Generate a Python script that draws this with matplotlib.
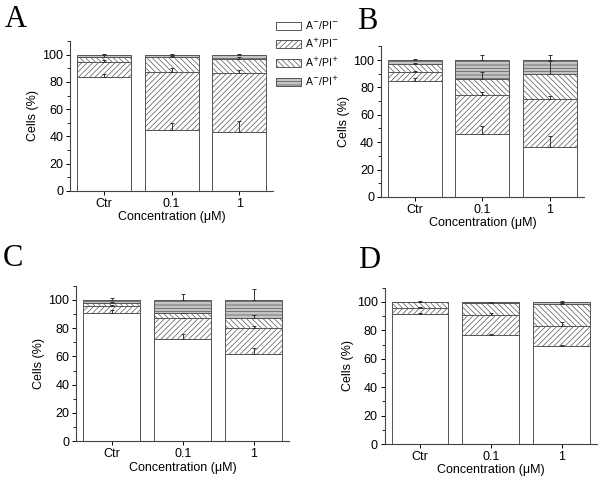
"""Four-panel stacked bar chart of annexin V / PI staining (A-D)."""

import matplotlib
matplotlib.use("Agg")
import matplotlib.pyplot as plt
from matplotlib.patches import Patch
from matplotlib.ticker import MultipleLocator
import numpy as np

plt.rcParams["font.family"] = ["Liberation Sans", "DejaVu Sans"]
plt.rcParams["hatch.linewidth"] = 0.5

CATEGORIES = ["Ctr", "0.1", "1"]
SERIES_LABELS = [r"A$^{-}$/PI$^{-}$", r"A$^{+}$/PI$^{-}$",
                 r"A$^{+}$/PI$^{+}$", r"A$^{-}$/PI$^{+}$"]

# segment heights (%), rows = A-/PI-, A+/PI-, A+/PI+, A-/PI+
A_VALUES = [[83.5, 45.0, 43.5], [11.5, 42.5, 43.0], [3.5, 10.5, 10.5], [1.5, 2.0, 3.0]]
A_ERRORS = [[2.0, 5.0, 8.0], [1.0, 3.0, 2.0], [1.0, 1.0, 1.0], [0.5, 0.5, 0.5]]

B_VALUES = [[85.0, 46.0, 36.5], [6.0, 28.5, 35.0], [6.0, 11.5, 18.0], [3.0, 14.0, 10.5]]
B_ERRORS = [[2.0, 6.0, 8.0], [1.0, 2.5, 2.0], [1.0, 5.0, 9.5], [0.5, 3.5, 3.5]]

C_VALUES = [[91.0, 72.5, 61.5], [5.0, 14.5, 19.0], [2.0, 3.5, 7.0], [2.0, 9.5, 12.5]]
C_ERRORS = [[2.0, 3.5, 4.5], [0.5, 0.5, 1.0], [0.5, 0.5, 2.0], [1.5, 4.0, 8.0]]

D_VALUES = [[91.5, 76.5, 69.0], [4.5, 14.0, 14.0], [4.0, 9.0, 15.5], [0.0, 0.5, 1.5]]
D_ERRORS = [[0.5, 1.0, 1.0], [0.5, 1.5, 3.0], [0.5, 0.5, 0.5], [0.0, 0.0, 0.5]]

STYLES = [
    dict(facecolor="white", hatch=None),
    dict(facecolor="white", hatch="//////"),
    dict(facecolor="white", hatch="\\\\\\\\\\\\"),
    dict(facecolor="#c4c4c4", hatch="-----"),
]
EDGE = "#555555"

# axes rectangles in figure fractions (left, bottom, width, height)
PANELS = [
    ("A", A_VALUES, A_ERRORS, (0.117, 0.601, 0.338, 0.313), (0.008, 0.99)),
    ("B", B_VALUES, B_ERRORS, (0.635, 0.588, 0.338, 0.315), (0.595, 0.985)),
    ("C", C_VALUES, C_ERRORS, (0.127, 0.077, 0.355, 0.325), (0.005, 0.49)),
    ("D", D_VALUES, D_ERRORS, (0.641, 0.071, 0.354, 0.327), (0.597, 0.485)),
]


def draw_panel(ax, values, errors):
    xs = np.arange(len(CATEGORIES))
    bottom = np.zeros(len(CATEGORIES))
    for vals, errs, style in zip(values, errors, STYLES):
        vals = np.array(vals)
        ax.bar(xs, vals, width=0.8, bottom=bottom, color=style["facecolor"],
               hatch=style["hatch"], edgecolor=EDGE, linewidth=0.7, zorder=2)
        top = bottom + vals
        ax.errorbar(xs, top, yerr=[np.zeros_like(vals), errs], fmt="none",
                    ecolor="#333333", elinewidth=0.7, capsize=1.5,
                    capthick=0.7, zorder=3)
        bottom = top

    ax.set_xlim(-0.5, 2.5)
    ax.set_ylim(0, 110)
    ax.set_xticks(xs)
    ax.set_xticklabels(CATEGORIES)
    ax.yaxis.set_major_locator(MultipleLocator(20))
    ax.yaxis.set_minor_locator(MultipleLocator(10))
    ax.tick_params(labelsize=9, direction="out", length=3, width=0.7, pad=2)
    ax.tick_params(which="minor", length=2, width=0.6)
    for side in ("top", "right"):
        ax.spines[side].set_visible(False)
    for side in ("left", "bottom"):
        ax.spines[side].set_color("#444444")
        ax.spines[side].set_linewidth(0.8)
    ax.set_xlabel("Concentration (\u03bcM)", fontsize=9, labelpad=1)
    ax.set_ylabel("Cells (%)", fontsize=9, labelpad=2)


def main():
    fig = plt.figure(figsize=(6.0, 4.78), dpi=100)
    for letter, values, errors, rect, pos in PANELS:
        ax = fig.add_axes(rect)
        draw_panel(ax, values, errors)
        fig.text(pos[0], pos[1], letter, fontsize=22, va="top", ha="left",
                 family="Liberation Serif")

    handles = [Patch(facecolor=s["facecolor"], hatch=s["hatch"], edgecolor=EDGE,
                     linewidth=0.7) for s in STYLES]
    fig.legend(handles, SERIES_LABELS, loc="upper left",
               bbox_to_anchor=(0.448, 0.975), frameon=False, fontsize=7.5,
               handlelength=2.4, handleheight=0.8, labelspacing=0.55,
               handletextpad=0.4, borderpad=0.2)

    fig.savefig("out.png", dpi=100)


if __name__ == "__main__":
    main()
